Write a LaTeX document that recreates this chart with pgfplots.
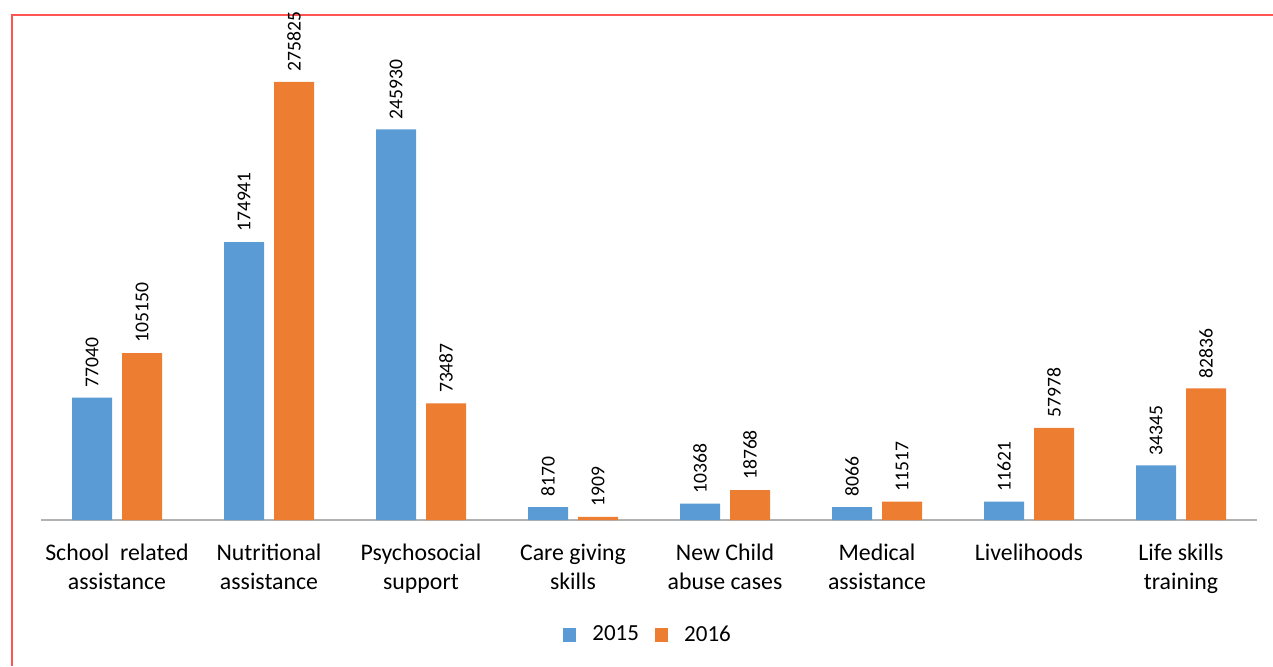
\documentclass[border=0pt]{standalone}
\usepackage{fontspec}
\setmainfont{Carlito}
\usepackage{pgfplots}
\pgfplotsset{compat=1.18}

\definecolor{c2015}{HTML}{5B9BD5}
\definecolor{c2016}{HTML}{ED7D31}
\definecolor{frame}{rgb}{1,0.33,0.33}

\begin{document}
\begin{tikzpicture}
% canvas: 1 px of the reference = 0.5pt
\useasboundingbox (0,0) rectangle (636.5pt,333pt);
\draw[frame, line width=1pt] (6pt,0) -- (6pt,325.5pt) -- (636.5pt,325.5pt);

\begin{axis}[
  at={(58.5pt,73pt)}, anchor=origin,
  scale only axis,
  width=608pt, height=238.2pt,
  xmin=-0.5, xmax=7.5,
  ymin=0, ymax=300000,
  clip=false,
  ybar=5pt, bar width=20pt,
  axis x line=bottom,
  axis y line=none,
  x axis line style={gray!60, line width=0.8pt, -},
  xtick={0,...,7},
  xtick style={draw=none},
  xticklabels={{School\ \ related\\assistance},{Nutritional\\assistance},{Psychosocial\\support},{Care giving\\skills},{New Child\\abuse cases},{Medical\\assistance},{Livelihoods},{Life skills\\training}},
  xticklabel style={align=center, font=\fontsize{11.9}{14.5}\selectfont, yshift=-6.5pt},
  point meta=explicit symbolic,
  nodes near coords,
  nodes near coords style={rotate=90, anchor=west, inner xsep=5pt, inner ysep=0pt, font=\fontsize{9.8}{11}\selectfont, black},
  legend style={at={(0.5,0)}, anchor=center, yshift=-57.5pt, draw=none,
    font=\fontsize{11.5}{13}\selectfont, column sep=6pt},
  legend columns=2,
  legend image code/.code={\fill[#1] (0pt,-3.3pt) rectangle (6.6pt,3.3pt);},
]
\addplot[fill=c2015, draw=none] coordinates {
  (0,77040) [77040]
  (1,174941) [174941]
  (2,245930) [245930]
  (3,8170) [8170]
  (4,10368) [10368]
  (5,8066) [8066]
  (6,11621) [11621]
  (7,34345) [34345]
};
\addplot[fill=c2016, draw=none] coordinates {
  (0,105150) [105150]
  (1,275825) [275825]
  (2,73487) [73487]
  (3,1909) [1909]
  (4,18768) [18768]
  (5,11517) [11517]
  (6,57978) [57978]
  (7,82836) [82836]
};
\legend{2015,2016}
\end{axis}
\end{tikzpicture}
\end{document}
